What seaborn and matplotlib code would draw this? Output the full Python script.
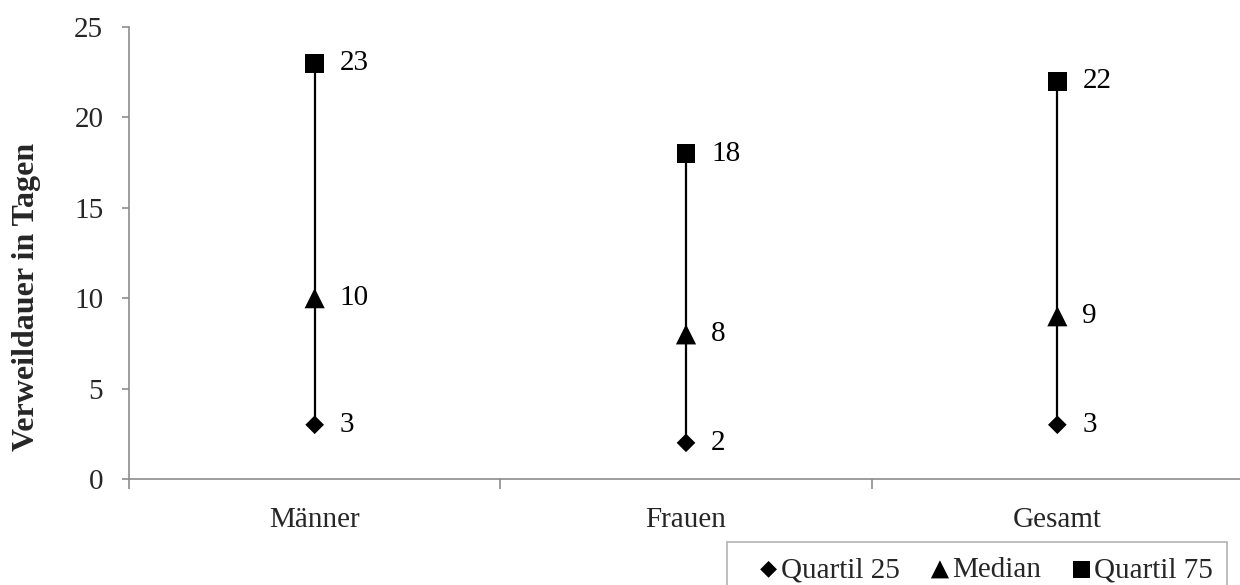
import matplotlib
matplotlib.use("Agg")
import matplotlib.pyplot as plt
from matplotlib.ticker import FixedLocator
import pandas as pd
import seaborn as sns

# Verweildauer (days) per group: lower quartile, median, upper quartile
groups = ["Männer", "Frauen", "Gesamt"]
quartil_25 = [3, 2, 3]
median = [10, 8, 9]
quartil_75 = [23, 18, 22]
series_names = ["Quartil 25", "Median", "Quartil 75"]
y_ticks = [0, 5, 10, 15, 20, 25]

FS = 21

sns.set_theme(style="white")
plt.rcParams["font.family"] = ["Liberation Serif", "DejaVu Serif"]
plt.rcParams["font.size"] = FS

rows = []
for name, vals in zip(series_names, [quartil_25, median, quartil_75]):
    for g, v in zip(groups, vals):
        rows.append({"Gruppe": g, "Kennwert": name, "Tage": v})
df = pd.DataFrame(rows)

fig = plt.figure(figsize=(12.4, 5.85), dpi=100)
ax = fig.add_axes([129 / 1240, 106 / 585, (1243 - 129) / 1240, 452 / 585])

# vertical range line from Q25 to Q75 for each group
sns.lineplot(data=df, x="Gruppe", y="Tage", units="Gruppe", estimator=None,
             color="black", linewidth=1.6, legend=False, ax=ax, sort=False)

marker_style = {"Quartil 25": ("D", 9.5), "Median": ("^", 14.5), "Quartil 75": ("s", 13.5)}
for name in series_names:
    sub = df[df["Kennwert"] == name]
    m, ms = marker_style[name]
    sns.scatterplot(data=sub, x="Gruppe", y="Tage", marker=m, s=ms ** 2,
                    color="black", edgecolor="none", linewidth=0, label=name,
                    ax=ax, zorder=3)
    for i, v in enumerate(sub["Tage"]):
        ax.annotate(f"{v}", (i, v), xytext=(18, 0), textcoords="offset points",
                    ha="left", va="center", fontsize=FS, color="black")

ax.set_xlim(-0.5, 2.5)
ax.set_ylim(0, 25)
ax.set_yticks(y_ticks)
ax.set_xticks(range(len(groups)))
ax.set_xticklabels(groups)
ax.xaxis.set_minor_locator(FixedLocator([-0.5, 0.5, 1.5, 2.5]))
ax.tick_params(axis="x", which="major", length=0, pad=20, labelsize=FS)
ax.tick_params(axis="x", which="minor", length=7, width=1.2, color="#8c8c8c",
               direction="out", bottom=True)
ax.tick_params(axis="y", which="major", length=5, width=1.2, color="#8c8c8c",
               direction="out", left=True, pad=13.5, labelsize=FS)

for side in ["top", "right"]:
    ax.spines[side].set_visible(False)
for side in ["left", "bottom"]:
    ax.spines[side].set_color("#8c8c8c")
    ax.spines[side].set_linewidth(1.2)

ax.set_xlabel("")
ax.set_ylabel("Verweildauer in Tagen", fontweight="bold", fontsize=23)
ax.yaxis.set_label_coords((27 - 129) / (1243 - 129), (479 - 297) / 452)
ax.yaxis.label.set_va("center")

handles, labels = ax.get_legend_handles_labels()
leg = ax.legend(handles, labels, loc="upper left", ncol=3,
                bbox_to_anchor=(727 / 1240, 1 - 542 / 585),
                bbox_transform=fig.transFigure, borderaxespad=0,
                frameon=True, fancybox=False, edgecolor="#a0a0a0",
                handlelength=1.85, handletextpad=-0.5, columnspacing=0.45,
                borderpad=0.5, fontsize=FS, markerscale=0.9)
leg.get_frame().set_linewidth(1.2)

fig.savefig("out.png", dpi=100)
